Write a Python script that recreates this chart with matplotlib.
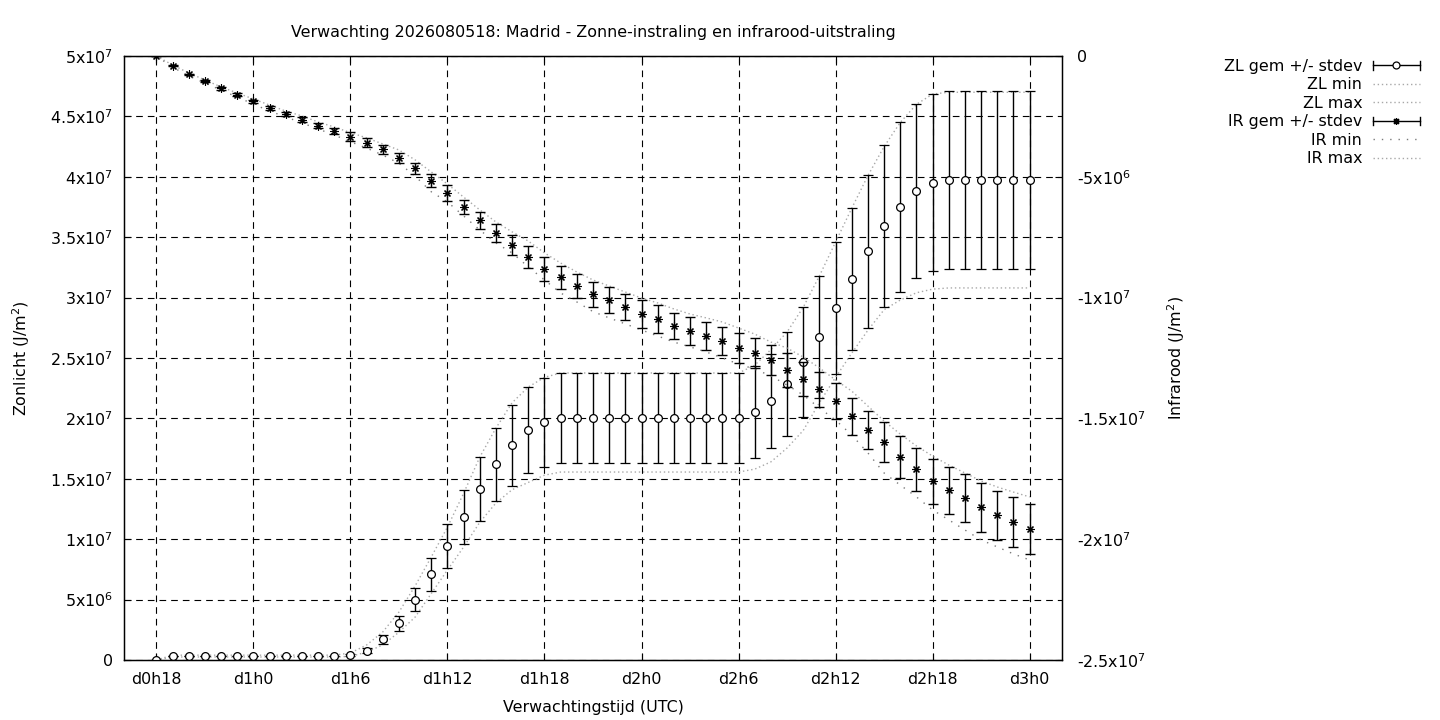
import matplotlib
matplotlib.use('Agg')
import matplotlib.pyplot as plt
from matplotlib.lines import Line2D
from matplotlib.legend_handler import HandlerBase

SCALE = 1e6  # all series below are in 10^6 J/m2
FS = 11.4

hours = list(range(18, 73))
tick_hours = [18, 24, 30, 36, 42, 48, 54, 60, 66, 72]
tick_labels = ['d0h18', 'd1h0', 'd1h6', 'd1h12', 'd1h18', 'd2h0', 'd2h6', 'd2h12', 'd2h18', 'd3h0']

left_ticks = [0, 5e6, 1e7, 1.5e7, 2e7, 2.5e7, 3e7, 3.5e7, 4e7, 4.5e7, 5e7]
left_tick_labels = ['0', r'5x10$^{6}$', r'1x10$^{7}$', r'1.5x10$^{7}$', r'2x10$^{7}$', r'2.5x10$^{7}$',
                    r'3x10$^{7}$', r'3.5x10$^{7}$', r'4x10$^{7}$', r'4.5x10$^{7}$', r'5x10$^{7}$']
right_ticks = [0, -5e6, -1e7, -1.5e7, -2e7, -2.5e7]
right_tick_labels = ['0', r'-5x10$^{6}$', r'-1x10$^{7}$', r'-1.5x10$^{7}$', r'-2x10$^{7}$', r'-2.5x10$^{7}$']

# zonlicht (ZL)
zl_mean = [0.0, 0.33, 0.33, 0.33, 0.33, 0.33, 0.33, 0.33, 0.33, 0.33, 0.33, 0.33,
           0.41, 0.77, 1.71, 3.04, 4.97, 7.09, 9.44, 11.81, 14.13, 16.2, 17.77, 19.01, 19.68,
           20.0, 20.0, 20.0, 20.0, 20.0, 20.0, 20.0, 20.0, 20.0, 20.0, 20.0, 20.0,
           20.5, 21.4, 22.85, 24.65, 26.7, 29.15, 31.55, 33.85, 35.9, 37.5, 38.8, 39.5,
           39.75, 39.75, 39.75, 39.75, 39.75, 39.75]
zl_std = [0.0, 0.03, 0.03, 0.03, 0.03, 0.03, 0.03, 0.03, 0.03, 0.03, 0.03, 0.03,
          0.1, 0.2, 0.35, 0.64, 0.95, 1.35, 1.84, 2.24, 2.66, 3.04, 3.38, 3.56, 3.70,
          3.72, 3.72, 3.72, 3.72, 3.72, 3.72, 3.72, 3.72, 3.72, 3.72, 3.72, 3.72,
          3.81, 3.89, 4.28, 4.55, 5.05, 5.46, 5.88, 6.33, 6.7, 7.0, 7.2, 7.33,
          7.37, 7.37, 7.37, 7.37, 7.37, 7.37]
zl_min = [0.0, 0.25, 0.25, 0.25, 0.25, 0.25, 0.25, 0.25, 0.25, 0.25, 0.25, 0.25,
          0.3, 0.65, 1.25, 2.3, 3.55, 5.5, 7.45, 9.35, 11.4, 13.0, 14.1, 14.7, 15.3,
          15.56, 15.56, 15.56, 15.56, 15.56, 15.56, 15.56, 15.56, 15.56, 15.56, 15.56, 15.56,
          15.8, 16.4, 17.55, 19.0, 21.3, 23.4, 25.4, 27.3, 29.0, 29.8, 30.4, 30.7,
          30.8, 30.8, 30.8, 30.8, 30.8, 30.8]
zl_max = [0.0, 0.4, 0.4, 0.4, 0.4, 0.4, 0.4, 0.4, 0.4, 0.4, 0.4, 0.4,
          0.58, 1.24, 2.32, 3.97, 6.13, 8.53, 11.0, 13.8, 16.8, 19.2, 21.3, 22.6, 23.4,
          23.76, 23.76, 23.76, 23.76, 23.76, 23.76, 23.76, 23.76, 23.76, 23.76, 23.76, 23.76,
          24.4, 25.7, 27.15, 29.2, 31.8, 34.6, 37.4, 40.1, 42.5, 44.5, 46.0, 46.85,
          47.0, 47.0, 47.0, 47.0, 47.0, 47.0]

# infrarood (IR)
ir_mean = [0.0, -0.41, -0.76, -1.05, -1.34, -1.61, -1.88, -2.15, -2.40, -2.64, -2.88, -3.10,
           -3.34, -3.59, -3.86, -4.23, -4.65, -5.16, -5.68, -6.24, -6.80, -7.34, -7.82, -8.33, -8.80,
           -9.16, -9.52, -9.86, -10.10, -10.40, -10.68, -10.89, -11.18, -11.39, -11.59, -11.80, -12.10,
           -12.31, -12.58, -13.00, -13.37, -13.80, -14.28, -14.91, -15.49, -15.99, -16.61, -17.11, -17.60,
           -17.98, -18.31, -18.68, -19.01, -19.30, -19.59]
ir_std = [0.0, 0.02, 0.03, 0.04, 0.05, 0.06, 0.07, 0.07, 0.08, 0.10, 0.12, 0.14,
          0.18, 0.19, 0.18, 0.21, 0.22, 0.26, 0.32, 0.30, 0.34, 0.37, 0.41, 0.46, 0.50,
          0.47, 0.48, 0.51, 0.52, 0.53, 0.57, 0.58, 0.55, 0.57, 0.58, 0.58, 0.62,
          0.62, 0.61, 0.69, 0.70, 0.72, 0.76, 0.76, 0.79, 0.83, 0.87, 0.89, 0.93,
          0.97, 0.99, 1.01, 1.01, 1.03, 1.03]
ir_min = [0.0, -0.46, -0.83, -1.12, -1.41, -1.70, -1.99, -2.28, -2.52, -2.77, -3.02, -3.27,
          -3.55, -3.81, -4.10, -4.44, -4.97, -5.62, -6.04, -6.62, -7.20, -7.74, -8.15, -8.73, -9.27,
          -9.81, -10.18, -10.58, -10.84, -11.09, -11.34, -11.59, -11.84, -12.04, -12.25, -12.50, -12.75,
          -12.96, -13.24, -13.62, -14.03, -14.57, -15.07, -15.69, -16.43, -17.26, -17.76, -18.25, -18.79,
          -19.20, -19.62, -20.03, -20.32, -20.61, -20.86]
ir_max = [0.0, -0.37, -0.70, -0.99, -1.28, -1.53, -1.78, -2.03, -2.28, -2.48, -2.73, -2.94,
          -3.17, -3.39, -3.64, -3.89, -4.30, -4.80, -5.30, -5.84, -6.37, -6.87, -7.28, -7.66, -8.15,
          -8.57, -8.94, -9.27, -9.52, -9.77, -10.02, -10.22, -10.47, -10.68, -10.84, -11.01, -11.26,
          -11.51, -11.84, -12.09, -12.46, -12.91, -13.41, -13.87, -14.49, -15.11, -15.65, -16.14, -16.56,
          -16.93, -17.26, -17.59, -17.84, -18.05, -18.25]


def sc(vals):
    return [v * SCALE for v in vals]


class ErrbarHandler(HandlerBase):
    # gnuplot style key sample: horizontal bar with end caps and the point in the middle
    def __init__(self, marker, ms):
        super().__init__()
        self.marker = marker
        self.ms = ms

    def create_artists(self, legend, orig_handle, xdescent, ydescent, width, height, fontsize, trans):
        y = height / 2 - ydescent
        x0, x1 = -xdescent, -xdescent + width
        arts = [Line2D([x0, x1], [y, y], color='black', lw=1),
                Line2D([x0, x0], [y - 3, y + 3], color='black', lw=1),
                Line2D([x1, x1], [y - 3, y + 3], color='black', lw=1),
                Line2D([(x0 + x1) / 2], [y], marker=self.marker, ms=self.ms, mfc='white',
                       mec='black', mew=0.9, ls='none')]
        for a in arts:
            a.set_transform(trans)
        return arts


fig = plt.figure(figsize=(14.4, 7.2), dpi=100)
ax = fig.add_axes([124 / 1440, 60 / 720, 938 / 1440, 604 / 720])
ax2 = ax.twinx()

zl = ax.errorbar(hours, sc(zl_mean), yerr=sc(zl_std), fmt='o', ms=5.6, mfc='white', mec='black',
                 mew=0.9, ecolor='black', elinewidth=1, capsize=3.3, capthick=1, zorder=3)
l_zlmin, = ax.plot(hours, sc(zl_min), ls=(0, (1, 2)), color='#a8a8a8', lw=1, zorder=2)
l_zlmax, = ax.plot(hours, sc(zl_max), ls=(0, (1, 2)), color='#a8a8a8', lw=1, zorder=2)

ir = ax2.errorbar(hours, sc(ir_mean), yerr=sc(ir_std), fmt='none', ecolor='black',
                  elinewidth=1, capsize=3.3, capthick=1, zorder=3)
ax2.plot(hours, sc(ir_mean), ls='none', marker=(8, 2, 0), ms=5.8, mec='black', mew=0.8, zorder=4)
l_irmin, = ax2.plot(hours, sc(ir_min), ls=(0, (1, 5)), color='#7a7a7a', lw=1, zorder=2)
l_irmax, = ax2.plot(hours, sc(ir_max), ls=(0, (1, 2)), color='#a8a8a8', lw=1, zorder=2)

ax.set_xlim(16, 74)
ax.set_ylim(0, 5e7)
ax2.set_ylim(-2.5e7, 0)

ax.set_xticks(tick_hours)
ax.set_xticklabels(tick_labels)
ax.set_yticks(left_ticks)
ax.set_yticklabels(left_tick_labels)
ax2.set_yticks(right_ticks)
ax2.set_yticklabels(right_tick_labels)

ax.grid(True, color='black', ls=(0, (6, 4.5)), lw=0.8)
ax.set_axisbelow(True)
ax.tick_params(axis='x', direction='in', top=True, length=5, width=0.8, pad=9, labelsize=FS)
ax.tick_params(axis='y', direction='in', left=True, right=False, length=5, width=0.8, pad=8, labelsize=FS)
ax2.tick_params(axis='y', direction='in', length=5, width=0.8, pad=11, labelsize=FS)
for s in ax.spines.values():
    s.set_linewidth(1)

ax.set_title('Verwachting 2026080518: Madrid - Zonne-instraling en infrarood-uitstraling',
             fontsize=FS, pad=14)
ax.set_xlabel('Verwachtingstijd (UTC)', fontsize=FS, labelpad=9)
ax.set_ylabel('Zonlicht (J/m$^{2}$)', fontsize=FS, labelpad=13)
ax2.set_ylabel('Infrarood (J/m$^{2}$)', fontsize=FS, labelpad=14)

handles = [zl, l_zlmin, l_zlmax, ir, l_irmin, l_irmax]
labels = ['ZL gem +/- stdev', 'ZL min', 'ZL max', 'IR gem +/- stdev', 'IR min', 'IR max']
fig.legend(handles, labels, loc='upper right', bbox_to_anchor=(1420 / 1440, 1 - 59 / 720),
           markerfirst=False, frameon=False, fontsize=FS, handlelength=3.0, handletextpad=0.65,
           borderaxespad=0, borderpad=0, labelspacing=0.22,
           handler_map={zl: ErrbarHandler('o', 5), ir: ErrbarHandler((8, 2, 0), 5)})

fig.savefig('out.png', dpi=100)
